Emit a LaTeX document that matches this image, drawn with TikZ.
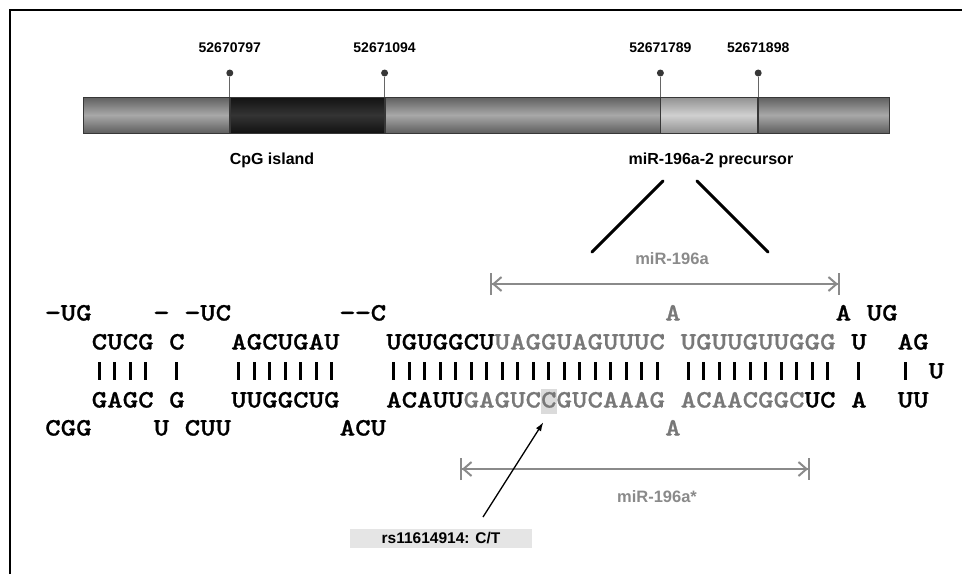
\documentclass[tikz,border=0pt]{standalone}
\usepackage{fontspec}
\usepackage{tikz}
\usetikzlibrary{positioning,arrows.meta,calc}
\usepackage{xcolor}
\newfontfamily\labelfont{Liberation Sans}
\newfontfamily\seqfont[FakeStretch=1.18, FakeBold=0.8]{lmmonolt10-bold.otf}
\definecolor{matgray}{RGB}{120,120,120}
\definecolor{lblgray}{RGB}{138,138,138}
\definecolor{barline}{RGB}{55,55,55}
\definecolor{midedge}{RGB}{95,95,95}
\definecolor{midcore}{RGB}{168,168,168}
\definecolor{darkedge}{RGB}{18,18,18}
\definecolor{darkcore}{RGB}{52,52,52}
\definecolor{lightedge}{RGB}{145,145,145}
\definecolor{lightcore}{RGB}{208,208,208}
\newcommand{\mat}[1]{\textcolor{matgray}{#1}}
\newcommand{\cx}[1]{45+15.5*#1}

\begin{document}
\begin{tikzpicture}[x=1pt, y=-1pt,
    segment/.style={rectangle, draw=barline, line width=0.8pt, inner sep=0pt,
      minimum height=36pt},
    midseg/.style={segment, top color=midedge, bottom color=midedge, middle color=midcore},
    darkseg/.style={segment, top color=darkedge, bottom color=darkedge, middle color=darkcore},
    lightseg/.style={segment, top color=lightedge, bottom color=lightedge, middle color=lightcore},
    pinhead/.style={circle, fill=barline, inner sep=0pt, minimum size=7pt},
    pinline/.style={draw=gray!80!black, line width=0.9pt},
    poslabel/.style={font=\labelfont\bfseries\fontsize{14}{16}\selectfont},
    region/.style={font=\labelfont\bfseries\fontsize{16}{19}\selectfont},
    nt/.style={font=\seqfont\fontsize{25}{30}\selectfont, inner sep=0pt,
      anchor=west, text height=15pt, text depth=0pt},
    pairbar/.style={line width=2.6pt},
    span/.style={draw=lblgray, line width=2pt,
      {Bar[width=22pt]Straight Barb[length=8pt,width=14pt]}-{Straight Barb[length=8pt,width=14pt]Bar[width=22pt]}},
    spanlabel/.style={font=\labelfont\bfseries\fontsize{16.5}{19}\selectfont, text=lblgray},
    zoomline/.style={line width=3pt, line cap=round},
    snparrow/.style={-{Latex[length=9pt,width=6pt]}, line width=1.3pt},
    snpbox/.style={rectangle, fill=gray!20, minimum width=182pt, minimum height=19pt,
      inner sep=0pt, font=\labelfont\bfseries\fontsize{15.5}{17}\selectfont},
    hlbox/.style={rectangle, fill=gray!28, minimum width=15.5pt, minimum height=25pt, inner sep=0pt}
  ]
    \useasboundingbox (0,0) rectangle (962,574);
    \draw[line width=1.6pt] (10,574) -- (10,10) -- (962,10);

    % chromosome bar
    \node[midseg,   minimum width=146pt, anchor=west] (seg1) at (83,115) {};
    \node[darkseg,  minimum width=154pt, right=0pt of seg1] (seg2) {};
    \node[midseg,   minimum width=275pt, right=0pt of seg2] (seg3) {};
    \node[lightseg, minimum width=97pt,  right=0pt of seg3] (seg4) {};
    \node[midseg,   minimum width=131pt, right=0pt of seg4] (seg5) {};

    \coordinate (pinrow) at (0,73);
    \node[pinhead] (pin1) at (seg1.east |- pinrow) {};
    \node[pinhead] (pin2) at (seg2.east |- pinrow) {};
    \node[pinhead] (pin3) at (seg3.east |- pinrow) {};
    \node[pinhead] (pin4) at (seg4.east |- pinrow) {};
    \node[poslabel, above=13pt of pin1] (pos1) {52670797};
    \node[poslabel, above=13pt of pin2] (pos2) {52671094};
    \node[poslabel, above=13pt of pin3] (pos3) {52671789};
    \node[poslabel, above=13pt of pin4] (pos4) {52671898};
    \draw[pinline] (pin1) -- (pin1 |- seg1.north);
    \draw[pinline] (pin2) -- (pin2 |- seg2.north);
    \draw[pinline] (pin3) -- (pin3 |- seg3.north);
    \draw[pinline] (pin4) -- (pin4 |- seg4.north);

    \node[region] (cpg) at (272,160) {CpG island};
    \node[region] (pre) at (711,160) {miR-196a-2 precursor};

    % zoom into the hairpin
    \coordinate (zl1a) at (663,181);
    \coordinate (zl1b) at (592,252);
    \coordinate (zl2a) at (697,181);
    \coordinate (zl2b) at (768,252);
    \draw[zoomline] (zl1a) -- (zl1b);
    \draw[zoomline] (zl2a) -- (zl2b);

    % mature strands
    \coordinate (m5l) at (490,284);
    \coordinate (m5r) at (840,284);
    \coordinate (m3l) at (460,469);
    \coordinate (m3r) at (810,469);
    \draw[span] (m5l) -- (m5r);
    \draw[span] (m3l) -- (m3r);
    \node[spanlabel] (m5lab) at (672,259) {miR-196a};
    \node[spanlabel] (m3lab) at (657,497) {miR-196a*};

    % SNP mark (behind the letters)
    \node[hlbox] (snpmark) at ({\cx{32}+7.75},401) {};

    % hairpin: unpaired 5' side
    \node[nt] (u1) at ({\cx{0}},313)  {−UG};
    \node[nt] (u2) at ({\cx{7}},313)  {−};
    \node[nt] (u3) at ({\cx{9}},313)  {−UC};
    \node[nt] (u4) at ({\cx{19}},313) {−−C};
    \node[nt] (u5) at ({\cx{40}},313) {\mat{A}};
    \node[nt] (u6) at ({\cx{51}},313) {A};
    \node[nt] (u7) at ({\cx{53}},313) {UG};
    % paired 5' side
    \node[nt] (p1) at ({\cx{3}},342)  {CUCG};
    \node[nt] (p2) at ({\cx{8}},342)  {C};
    \node[nt] (p3) at ({\cx{12}},342) {AGCUGAU};
    \node[nt] (p4) at ({\cx{22}},342) {UGUGGCU\mat{UAGGUAGUUUC}};
    \node[nt] (p5) at ({\cx{41}},342) {\mat{UGUUGUUGGG}};
    \node[nt] (p6) at ({\cx{52}},342) {U};
    \node[nt] (p7) at ({\cx{55}},342) {AG};
    % base pairs
    \foreach \c in {3,4,5,6,8,12,13,14,15,16,17,18,22,23,24,25,26,27,28,29,30,
        31,32,33,34,35,36,37,38,39,41,42,43,44,45,46,47,48,49,50,52,55}
      \draw[pairbar] ({\cx{\c}+7.75},362) -- ({\cx{\c}+7.75},380);
    \node[nt] (loop) at ({\cx{57}},371) {U};
    % paired 3' side
    \node[nt] (q1) at ({\cx{3}},400)  {GAGC};
    \node[nt] (q2) at ({\cx{8}},400)  {G};
    \node[nt] (q3) at ({\cx{12}},400) {UUGGCUG};
    \node[nt] (q4) at ({\cx{22}},400) {ACAUU\mat{GAGUCCGUCAAAG}};
    \node[nt] (q5) at ({\cx{41}},400) {\mat{ACAACGGC}UC};
    \node[nt] (q6) at ({\cx{52}},400) {A};
    \node[nt] (q7) at ({\cx{55}},400) {UU};
    % unpaired 3' side
    \node[nt] (d1) at ({\cx{0}},428)  {CGG};
    \node[nt] (d2) at ({\cx{7}},428)  {U};
    \node[nt] (d3) at ({\cx{9}},428)  {CUU};
    \node[nt] (d4) at ({\cx{19}},428) {ACU};
    \node[nt] (d5) at ({\cx{40}},428) {\mat{A}};

    % SNP label
    \node[snpbox] (snp) at (441,538.5) {rs11614914: C/T};
    \coordinate (snptail) at (483,517);
    \draw[snparrow, shorten >=10pt] (snptail) -- (snpmark.south);
\end{tikzpicture}
\end{document}
